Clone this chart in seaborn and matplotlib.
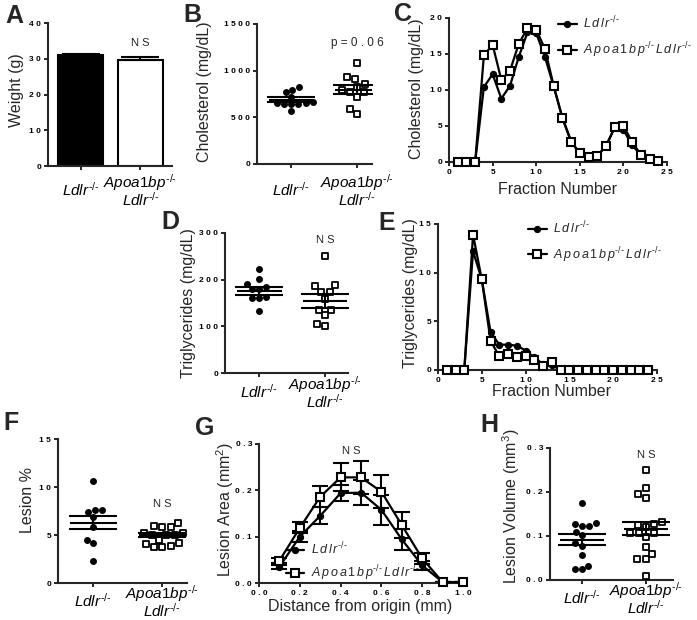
import numpy as np
import matplotlib
matplotlib.use("Agg")
import matplotlib.pyplot as plt
import seaborn as sns

# Theme first, then fonts (set_theme resets font.family)
sns.set_theme(style="ticks")
plt.rcParams['font.family'] = ['Liberation Sans', 'DejaVu Sans']
plt.rcParams['mathtext.fontset'] = 'custom'
plt.rcParams['mathtext.rm'] = 'Liberation Sans'
plt.rcParams['mathtext.it'] = 'Liberation Sans:italic'
plt.rcParams['mathtext.bf'] = 'Liberation Sans:bold'

# ---------------- data ----------------
groups = ["Ldlr", "Apoa1bp Ldlr"]

# A: body weight (g)
weight_mean = [31.0, 29.6]
weight_sem = [0.4, 0.9]

# B: plasma cholesterol (mg/dL)
chol_ldlr = [829, 796, 768, 720, 650, 645, 640, 648, 655, 660, 565]
chol_dko = [1079, 907, 929, 857, 768, 821, 768, 714, 589, 536, 790]
chol_mean = [686, 796]
chol_sem = [27, 50]

# C: FPLC cholesterol profile
fractions = list(range(1, 25))
fplc_chol_ldlr = [0, 0, 0, 10.4, 12.2, 8.8, 10.6, 14.6, 18.0, 17.9, 14.6, 10.5,
                  6.2, 2.9, 1.2, 0.8, 0.9, 2.2, 4.8, 4.5, 2.3, 1.0, 0.4, 0.2]
fplc_chol_dko = [0, 0, 0, 14.8, 16.3, 11.4, 12.7, 16.4, 18.6, 18.4, 15.7, 10.6,
                 6.1, 2.8, 1.2, 0.7, 0.8, 2.2, 4.8, 5.0, 2.8, 1.0, 0.4, 0.2]

# D: plasma triglycerides (mg/dL)
tg_ldlr = [223, 201, 185, 190, 179, 179, 160, 160, 162, 133]
tg_dko = [250, 188, 186, 174, 174, 158, 136, 136, 124, 106, 100]
tg_mean = [176, 154]
tg_sem = [8, 15]

# E: FPLC triglyceride profile
fplc_tg_ldlr = [0, 0, 0, 12.2, 9.3, 3.9, 2.6, 2.6, 2.5, 2.0, 1.3, 0.6,
                0.5, 0, 0, 0, 0, 0, 0, 0, 0, 0, 0, 0]
fplc_tg_dko = [0, 0, 0, 13.9, 9.3, 3.0, 1.4, 1.6, 1.3, 1.4, 1.0, 0.4,
               0.8, 0, 0, 0, 0, 0, 0, 0, 0, 0, 0, 0]

# F: lesion %
lesion_ldlr = [10.6, 7.6, 7.4, 7.6, 6.9, 5.8, 4.5, 4.2, 2.3]
lesion_dko = [6.2, 5.8, 5.9, 5.8, 5.0, 5.0, 5.2, 5.2, 4.5, 4.1, 3.8, 3.9, 4.2, 5.0, 3.7]
lesion_mean = [6.3, 5.0]
lesion_sem = [0.7, 0.2]

# G: lesion area along aortic root (mm2)
distance = [0.1, 0.2, 0.3, 0.4, 0.5, 0.6, 0.7, 0.8, 0.9, 1.0]
area_ldlr = [0.035, 0.100, 0.145, 0.194, 0.195, 0.158, 0.094, 0.038, 0.002, 0.002]
area_ldlr_sem = [0.004, 0.012, 0.018, 0.018, 0.027, 0.033, 0.022, 0.010, 0, 0]
area_dko = [0.048, 0.119, 0.186, 0.228, 0.228, 0.197, 0.125, 0.053, 0.002, 0.002]
area_dko_sem = [0.005, 0.012, 0.023, 0.030, 0.035, 0.036, 0.028, 0.012, 0, 0]

# H: lesion volume (mm3)
vol_ldlr = [0.175, 0.128, 0.122, 0.122, 0.130, 0.110, 0.102, 0.078, 0.085,
            0.057, 0.032, 0.024, 0.024]
vol_dko = [0.251, 0.210, 0.195, 0.187, 0.132, 0.128, 0.126, 0.106, 0.106,
           0.106, 0.121, 0.097, 0.076, 0.060, 0.047, 0.047, 0.010]
vol_mean = [0.092, 0.117]
vol_sem = [0.012, 0.015]

# ---------------- labels ----------------
KO = r"^{\text{-/-}}"
CAT_LABELS = ["$Ldlr" + KO + "$", "$Apoa1bp" + KO + "$\n$Ldlr" + KO + "$"]
LEG_LDLR = r"$L\,d\,l\,r" + KO + "$"
LEG_DKO = r"$A\,p\,o\,a\,1\,b\,p" + KO + r"\,L\,d\,l\,r" + KO + "$"

W, H = 697, 620
fig = plt.figure(figsize=(W / 100, H / 100), dpi=100)


def panel(x0, x1, y0, y1):
    return fig.add_axes([x0 / W, 1 - y1 / H, (x1 - x0) / W, (y1 - y0) / H])


def ftext(x, y, s, **kw):
    fig.text(x / W, 1 - y / H, s, **kw)


def sp(s):
    return " ".join(s)


def style(ax, yticks, ylabels):
    sns.despine(ax=ax)
    for side in ["left", "bottom"]:
        ax.spines[side].set_linewidth(1.5)
    ax.tick_params(width=1.2, length=3, pad=2, colors="black")
    ax.set_yticks(yticks)
    ax.set_yticklabels([sp(t) for t in ylabels], fontsize=6, fontweight="bold")
    ax.set_ylim(yticks[0], yticks[-1])
    ax.set_xlabel("")
    ax.set_ylabel("")


def cat_axis(ax, xlim, pad_px):
    ax.set_xticks([0, 1])
    ax.set_xticklabels(CAT_LABELS, fontsize=11)
    ax.set_xlim(*xlim)
    ax.tick_params(axis="x", pad=pad_px * 0.72)
    for lab in ax.get_xticklabels():
        lab.set_va("center")
        lab.set_linespacing(0.85)


def num_xaxis(ax, ticks, labels):
    ax.set_xticks(ticks)
    ax.set_xticklabels([sp(t) for t in labels], fontsize=6, fontweight="bold")
    ax.set_xlim(ticks[0], ticks[-1])


def dot_panel(ax, a, b, means, sems):
    sns.swarmplot(x=[groups[0]] * len(a), y=a, order=groups, ax=ax,
                  marker="o", color="black", size=5)
    sns.swarmplot(x=[groups[1]] * len(b), y=b, order=groups, ax=ax,
                  marker="s", color="white", edgecolor="black", linewidth=1.3, size=4.6)
    for i in range(2):
        ax.hlines(means[i], i - 0.34, i + 0.34, color="black", lw=1.5, zorder=4)
        ax.errorbar(i, means[i], yerr=sems[i], fmt="none", ecolor="black",
                    elinewidth=1.5, capsize=17, capthick=1.5, zorder=4)


def profile(ax, x, a, b, ms_c=4.5, ms_s=6):
    sns.lineplot(x=x, y=a, ax=ax, color="black", lw=1.6, marker="o",
                 markersize=ms_c, markeredgecolor="black", clip_on=False,
                 label=LEG_LDLR, zorder=3)
    sns.lineplot(x=x, y=b, ax=ax, color="black", lw=1.6, marker="s",
                 markersize=ms_s, markerfacecolor="white", markeredgecolor="black",
                 markeredgewidth=1.5, clip_on=False, label=LEG_DKO, zorder=4)


def legend(ax, loc, anchor, spacing):
    ax.legend(frameon=False, loc=loc, bbox_to_anchor=anchor,
              fontsize=9, handlelength=1.5, handletextpad=0.5,
              borderaxespad=0, borderpad=0, labelspacing=spacing)


# ---------------- A: weight ----------------
axA = panel(48, 172, 23, 166)
sns.barplot(x=groups, y=weight_mean, hue=groups, palette=["black", "white"],
            edgecolor="black", linewidth=1.5, width=0.75, saturation=1,
            legend=False, ax=axA)
axA.errorbar([0, 1], weight_mean, yerr=[[0, 0], weight_sem], fmt="none",
             ecolor="black", elinewidth=1.5, capsize=14, capthick=1.5, zorder=5)
style(axA, [0, 10, 20, 30, 40], ["0", "10", "20", "30", "40"])
cat_axis(axA, (-0.55, 1.53), 20)
axA.text(1, 34.5, "N S", ha="center", va="center", fontsize=8)

# ---------------- B: cholesterol ----------------
axB = panel(257, 372, 24, 164)
dot_panel(axB, chol_ldlr, chol_dko, chol_mean, chol_sem)
style(axB, [0, 500, 1000, 1500], ["0", "500", "1000", "1500"])
cat_axis(axB, (-0.52, 1.23), 22)
axB.text(1, 1300, "p = 0 . 0 6", ha="center", va="center", fontsize=8.5)

# ---------------- C: cholesterol FPLC ----------------
axC = panel(449, 667, 18, 162)
profile(axC, fractions, fplc_chol_ldlr, fplc_chol_dko)
style(axC, [0, 5, 10, 15, 20], ["0", "5", "10", "15", "20"])
num_xaxis(axC, [0, 5, 10, 15, 20, 25], ["0", "5", "10", "15", "20", "25"])
legend(axC, "upper left", (0.5, 1.02), 0.7)

# ---------------- D: triglycerides ----------------
axD = panel(225, 348, 233, 373)
dot_panel(axD, tg_ldlr, tg_dko, tg_mean, tg_sem)
style(axD, [0, 100, 200, 300], ["0", "100", "200", "300"])
cat_axis(axD, (-0.52, 1.35), 15)
axD.text(1, 285, "N S", ha="center", va="center", fontsize=8)

# ---------------- E: triglyceride FPLC ----------------
axE = panel(438, 657, 224, 370)
profile(axE, fractions, fplc_tg_ldlr, fplc_tg_dko)
style(axE, [0, 5, 10, 15], ["0", "5", "10", "15"])
num_xaxis(axE, [0, 5, 10, 15, 20, 25], ["0", "5", "10", "15", "20", "25"])
legend(axE, "upper left", (0.41, 1.03), 0.7)

# ---------------- F: lesion % ----------------
axF = panel(58, 187, 439, 583)
dot_panel(axF, lesion_ldlr, lesion_dko, lesion_mean, lesion_sem)
style(axF, [0, 5, 10, 15], ["0", "5", "10", "15"])
cat_axis(axF, (-0.51, 1.36), 14)
axF.text(1, 8.2, "N S", ha="center", va="center", fontsize=8)

# ---------------- G: lesion area profile ----------------
axG = panel(259, 463, 444, 583)
profile(axG, distance, area_ldlr, area_dko, ms_c=4.5, ms_s=6)
axG.errorbar(distance, area_ldlr, yerr=area_ldlr_sem, fmt="none", ecolor="black",
             elinewidth=1.5, capsize=6, capthick=1.5, zorder=2)
axG.errorbar(distance, area_dko, yerr=area_dko_sem, fmt="none", ecolor="black",
             elinewidth=1.5, capsize=6, capthick=1.5, zorder=2)
style(axG, [0, 0.1, 0.2, 0.3], ["0.0", "0.1", "0.2", "0.3"])
num_xaxis(axG, [0, 0.2, 0.4, 0.6, 0.8, 1.0], ["0.0", "0.2", "0.4", "0.6", "0.8", "1.0"])
legend(axG, "lower left", (0.13, 0.0), 0.5)
axG.text(0.45, 0.285, "N S", ha="center", va="center", fontsize=8)

# ---------------- H: lesion volume ----------------
axH = panel(550, 673, 448, 580)
dot_panel(axH, vol_ldlr, vol_dko, vol_mean, vol_sem)
style(axH, [0, 0.1, 0.2, 0.3], ["0.0", "0.1", "0.2", "0.3"])
cat_axis(axH, (-0.5, 1.42), 14)
axH.text(1, 0.284, "N S", ha="center", va="center", fontsize=8)

# ---------------- axis titles ----------------
ylab = dict(rotation=90, ha="center", va="center", fontsize=11.5)
ftext(17, 90, "Weight (g)", **ylab)
ftext(205, 92, "Cholesterol (mg/dL)", **ylab)
ftext(417, 89, "Cholesterol (mg/dL)", **ylab)
ftext(188, 303, "Triglycerides (mg/dL)", **ylab)
ftext(410, 293, "Triglycerides (mg/dL)", **ylab)
ftext(28, 500, "Lesion %", **ylab)
ftext(225, 509, r"Lesion Area (mm$^2$)", **ylab)
ftext(511, 506, r"Lesion Volume (mm$^3$)", **ylab)

xlab = dict(ha="center", va="center", fontsize=11.5)
ftext(558, 190, "Fraction Number", **xlab)
ftext(551, 392, "Fraction Number", **xlab)
ftext(360, 607, "Distance from origin (mm)", **xlab)

# ---------------- panel letters ----------------
letter = dict(ha="center", va="center", fontsize=18, fontweight="bold")
for x, y, s in [(14, 16, "A"), (192, 15, "B"), (403, 14, "C"), (170, 222, "D"),
                (387, 223, "E"), (11, 423, "F"), (205, 428, "G"), (489, 425, "H")]:
    ftext(x, y, s, **letter)

fig.savefig("out.png", dpi=100)
